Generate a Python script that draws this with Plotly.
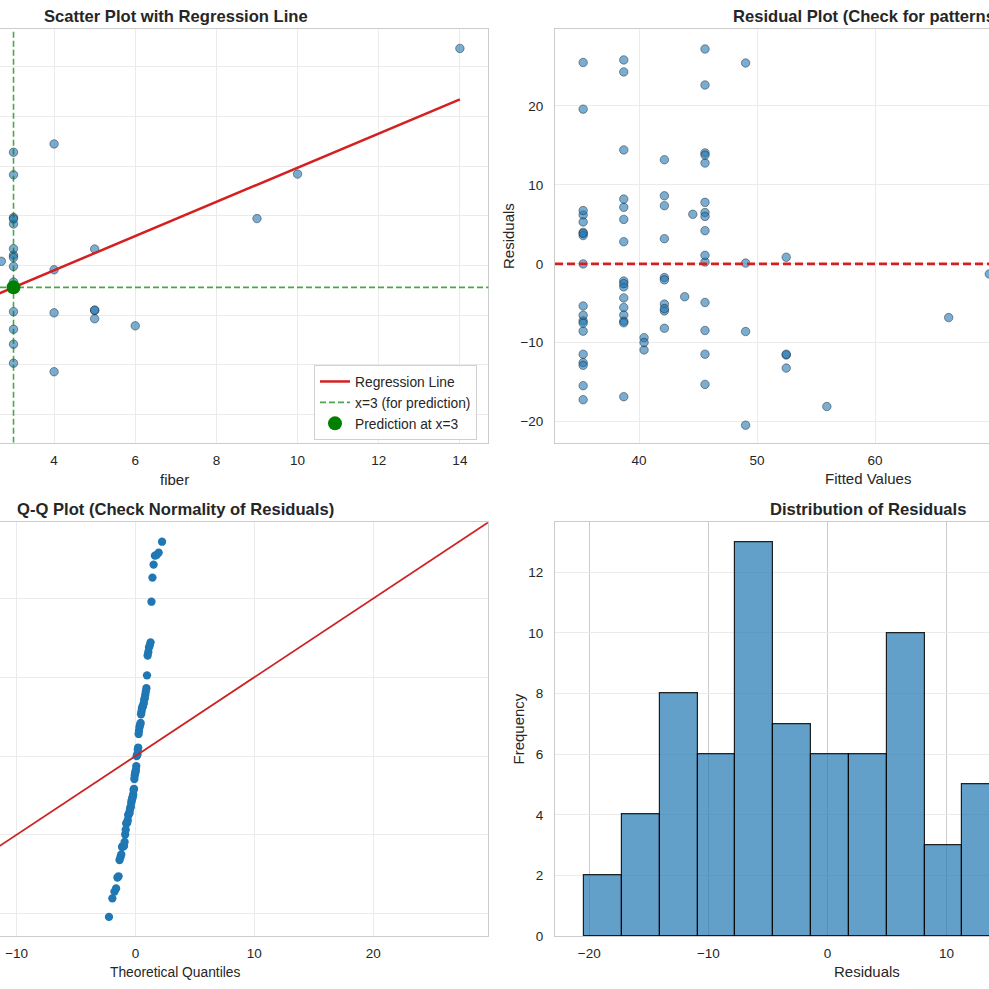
import numpy as np
import plotly.graph_objects as go
from statistics import NormalDist

# ---------------- data (cereal dataset: fiber vs rating) ----------------
fiber = [10, 2, 9, 14, 1, 1.5, 1, 2, 4, 5, 0, 2, 0, 2, 0, 0, 1, 1, 0, 4,
         1, 1, 2, 1, 1, 1, 3, 5, 5, 0, 0, 0, 3, 3, 3, 1, 1.5, 0, 1, 2,
         0, 2, 0, 0, 3, 3, 3, 2, 0, 3, 3, 1.5, 6, 1, 0, 1, 2, 2.7, 5, 2.5,
         2, 0, 0, 3, 4, 3, 1, 1, 3, 0, 4, 3, 0, 0, 3, 3, 1]
rating = [68.40, 33.98, 59.43, 93.70, 34.38, 29.51, 33.17, 37.04, 49.12, 53.31,
          18.04, 50.76, 19.82, 40.40, 22.74, 41.45, 45.86, 35.78, 22.40, 40.45,
          64.53, 46.90, 36.18, 44.33, 32.21, 31.44, 58.35, 40.92, 41.02, 28.03,
          35.25, 23.80, 52.08, 53.37, 45.81, 21.87, 31.07, 28.74, 36.52, 36.47,
          39.24, 45.33, 26.73, 54.85, 37.14, 34.14, 30.31, 40.11, 29.92, 40.69,
          59.64, 30.45, 37.84, 41.50, 60.76, 63.01, 49.51, 50.83, 39.26, 39.70,
          55.33, 42.00, 40.56, 68.24, 74.47, 72.80, 31.23, 53.13, 59.36, 38.84,
          28.59, 46.66, 39.11, 27.75, 49.79, 51.59, 36.19]
pred_x = 3
n_bins = 15

x_ticks_tl = [2, 4, 6, 8, 10, 12, 14]
y_ticks_tl = [20, 30, 40, 50, 60, 70, 80, 90]
x_ticks_tr = [40, 50, 60, 70]
y_ticks_res = [-20, -10, 0, 10, 20]
x_ticks_qq = [-10, 0, 10, 20]
x_ticks_h = [-20, -10, 0, 10]
y_ticks_h = [0, 2, 4, 6, 8, 10, 12]

# ---------------- derived quantities ----------------
xa = np.array(fiber, dtype=float)
ya = np.array(rating, dtype=float)
slope, intercept = np.polyfit(xa, ya, 1)
fitted = intercept + slope * xa
resid = ya - fitted
pred_y = intercept + slope * pred_x
x_line = np.linspace(xa.min(), xa.max(), 50)
y_line = intercept + slope * x_line

n = len(resid)
sample_q = np.sort(resid)
theo_q = np.array([NormalDist().inv_cdf(i / (n + 1)) for i in range(1, n + 1)])

counts, edges = np.histogram(resid, bins=n_bins)
centers = (edges[:-1] + edges[1:]) / 2
bw = edges[1] - edges[0]

# visible axis windows (the picture is a crop of a larger figure)
R_TL_X = [2.667, 14.70]
R_TL_Y = [14.3, 97.55]
R_TR_X = [32.87, 69.66]
R_TR_Y = [-22.66, 29.71]
R_QQ_X = [-11.40, 29.68]
R_QQ_Y = [-22.86, 29.68]
R_H_X = [-22.88, 13.56]
R_H_Y = [0, 13.65]

W = H = 989
def px(v):
    return v / W
def py(v):
    return 1 - v / H

FONT = "Liberation Sans, Arial, sans-serif"
TXT = "#262626"
GRID = "#ebebeb"
SPINE = "#cccccc"
PT_FILL = "rgba(31,119,180,0.6)"
PT_EDGE = "rgba(0,0,0,0.55)"
RED = "#d42020"

fig = go.Figure()

# ---- Top-left: scatter + regression ----
fig.add_trace(go.Scatter(x=fiber, y=rating, mode="markers", showlegend=False,
                         marker=dict(size=8.5, color=PT_FILL, line=dict(width=0.7, color=PT_EDGE)),
                         xaxis="x", yaxis="y"))
fig.add_trace(go.Scatter(x=x_line, y=y_line, mode="lines", name="Regression Line",
                         line=dict(color=RED, width=2.5), xaxis="x", yaxis="y"))
fig.add_trace(go.Scatter(x=[pred_x, pred_x], y=R_TL_Y, mode="lines", name="x=3 (for prediction)",
                         line=dict(color="rgba(0,128,0,0.7)", width=1.6, dash="6px,3px"),
                         xaxis="x", yaxis="y"))
fig.add_shape(type="line", xref="x domain", yref="y", x0=0, x1=1, y0=pred_y, y1=pred_y,
              line=dict(color="rgba(0,128,0,0.7)", width=1.6, dash="6px,3px"))
fig.add_trace(go.Scatter(x=[pred_x], y=[pred_y], mode="markers", name="Prediction at x=3",
                         marker=dict(size=14, color="#008000"), xaxis="x", yaxis="y"))

# ---- Top-right: residuals vs fitted ----
fig.add_trace(go.Scatter(x=fitted, y=resid, mode="markers", showlegend=False,
                         marker=dict(size=8.5, color=PT_FILL, line=dict(width=0.7, color=PT_EDGE)),
                         xaxis="x2", yaxis="y2"))
fig.add_shape(type="line", xref="x2 domain", yref="y2", x0=0, x1=1, y0=0, y1=0,
              line=dict(color=RED, width=2.6, dash="8px,4px"))

# ---- Bottom-left: Q-Q plot ----
fig.add_trace(go.Scatter(x=theo_q, y=sample_q, mode="markers", showlegend=False,
                         marker=dict(size=8.3, color="#1f77b4", line=dict(width=0)),
                         xaxis="x3", yaxis="y3"))
fig.add_trace(go.Scatter(x=[R_QQ_Y[0], R_QQ_Y[1]], y=[R_QQ_Y[0], R_QQ_Y[1]], mode="lines",
                         showlegend=False, line=dict(color="#cc2222", width=1.8),
                         xaxis="x3", yaxis="y3"))

# ---- Bottom-right: histogram ----
fig.add_trace(go.Bar(x=centers, y=counts, width=bw, showlegend=False,
                     marker=dict(color="rgba(31,119,180,0.7)",
                                 line=dict(color="rgba(0,0,0,0.85)", width=1.2)),
                     xaxis="x4", yaxis="y4"))

# ---------------- axes ----------------
def ax(**kw):
    base = dict(showgrid=True, gridcolor=GRID, gridwidth=1, zeroline=False, ticks="",
                showline=True, linecolor=SPINE, linewidth=1,
                tickfont=dict(family=FONT, size=13.5, color=TXT))
    base.update(kw)
    return base

dom_l = [0, px(488.3)]
dom_r = [px(555), 1]
dom_t = [py(442.7), py(29.3)]
dom_b = [py(936), py(522.3)]

fig.update_layout(
    xaxis=ax(domain=dom_l, range=R_TL_X, tickvals=x_ticks_tl, anchor="y", mirror=True,
             ticklabelstandoff=5),
    yaxis=ax(domain=dom_t, range=R_TL_Y, tickvals=y_ticks_tl, anchor="x", side="right",
             showticklabels=False),
    xaxis2=ax(domain=dom_r, range=R_TR_X, tickvals=x_ticks_tr, anchor="y2", mirror=True,
              ticklabelstandoff=5),
    yaxis2=ax(domain=dom_t, range=R_TR_Y, tickvals=y_ticks_res, anchor="x2",
              ticklabelstandoff=8),
    xaxis3=ax(domain=dom_l, range=R_QQ_X, tickvals=x_ticks_qq, anchor="y3", mirror=True,
              ticklabelstandoff=5),
    yaxis3=ax(domain=dom_b, range=R_QQ_Y, tickvals=y_ticks_res, anchor="x3", side="right",
              showticklabels=False),
    xaxis4=ax(domain=dom_r, range=R_H_X, tickvals=x_ticks_h, anchor="y4", mirror=True,
              gridcolor="#cccccc", ticklabelstandoff=5),
    yaxis4=ax(domain=dom_b, range=R_H_Y, tickvals=y_ticks_h, anchor="x4",
              ticklabelstandoff=8),
)

# ---------------- titles & labels ----------------
def ann(text, x, y, size, bold=False, angle=0):
    fig.add_annotation(text=("<b>%s</b>" % text) if bold else text,
                       x=px(x), y=py(y), xref="paper", yref="paper",
                       xanchor="center", yanchor="middle", showarrow=False,
                       textangle=angle, font=dict(family=FONT, size=size, color=TXT))

ann("Scatter Plot with Regression Line", 175.5, 16.5, 16.6, bold=True)
ann("Residual Plot (Check for patterns)", 866.5, 16.5, 16.6, bold=True)
ann("Q-Q Plot (Check Normality of Residuals)", 175.5, 509.5, 16.6, bold=True)
ann("Distribution of Residuals", 867.5, 509.5, 16.6, bold=True)
ann("fiber", 174, 479, 15)
ann("Fitted Values", 867.5, 478.5, 15)
ann("Residuals", 509, 236, 15, angle=-90)
ann("Theoretical Quantiles", 175, 972.5, 13.8)
ann("Frequency", 517.5, 729, 15, angle=-90)
ann("Residuals", 867, 971.5, 15)

fig.update_layout(
    width=W, height=H, margin=dict(l=0, r=0, t=0, b=0),
    paper_bgcolor="white", plot_bgcolor="white", template="none",
    bargap=0, font=dict(family=FONT, color=TXT),
    legend=dict(x=px(314), y=py(365), xanchor="left", yanchor="top",
                bgcolor="rgba(255,255,255,0.85)", bordercolor="#d0d0d0", borderwidth=1,
                font=dict(family=FONT, size=13.8, color=TXT), traceorder="normal"),
)

fig.write_html("out.html")
